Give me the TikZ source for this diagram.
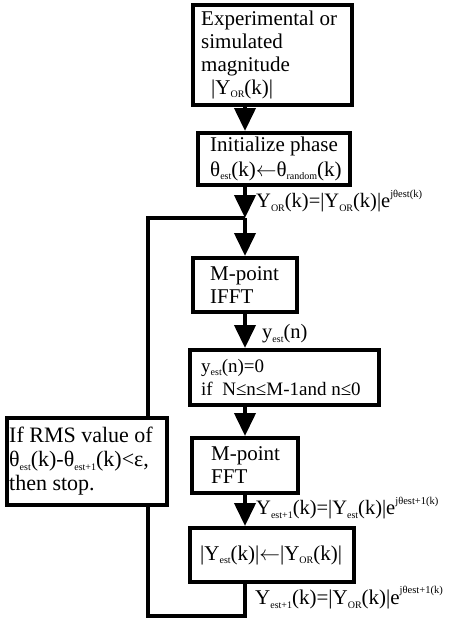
\documentclass[tikz,border=0pt]{standalone}
\usepackage{fontspec}
\setmainfont{Liberation Serif}
\usetikzlibrary{arrows.meta}
\newcommand{\sbs}[1]{\raisebox{-0.35ex}{\fontsize{10}{10}\selectfont #1}}
\newcommand{\sps}[1]{\raisebox{1.15ex}{\fontsize{10.5}{10.5}\selectfont #1}}
\newcommand{\larr}{$\leftarrow$}
\tikzset{
  box/.style={draw, line width=4pt, inner sep=0pt},
  txt/.style={anchor=west, inner sep=0pt, align=left, font=\fontsize{21}{23}\selectfont},
  lbl/.style={anchor=west, inner sep=0pt, font=\fontsize{20.5}{22}\selectfont},
  wire/.style={line width=4pt},
  arr/.style={line width=4pt, -{Triangle[width=21pt,length=23pt]}}
}
\begin{document}
\begin{tikzpicture}[x=1pt,y=-1pt]
\useasboundingbox (0,0) rectangle (448,621);
% boxes
\node[box, minimum width=159pt, minimum height=100pt] (b1) at (272.5,55) {};
\node[txt] at ([xshift=10pt]b1.west) {Experimental or\\simulated\\magnitude\\\hspace*{10pt}|Y\sbs{OR}(k)|};
\node[box, minimum width=152pt, minimum height=52pt] (b2) at (274,159) {};
\node[txt, font=\fontsize{21}{25}\selectfont] at ([xshift=14pt]b2.west) {Initialize phase\\θ\sbs{est}(k)\larr θ\sbs{random}(k)};
\node[box, minimum width=104pt, minimum height=54pt] (b3) at (245,285) {};
\node[txt] at ([xshift=19pt]b3.west) {M-point\\IFFT};
\node[box, minimum width=189pt, minimum height=55pt] (b4) at (284.5,377.5) {};
\node[txt, font=\fontsize{19}{23}\selectfont] at ([xshift=13pt]b4.west) {y\sbs{est}(n)=0\\if\ \ N≤n≤M-1and n≤0};
\node[box, minimum width=106pt, minimum height=55pt] (b5) at (245,465.5) {};
\node[txt] at ([xshift=21pt]b5.west) {M-point\\FFT};
\node[box, minimum width=164pt, minimum height=54pt] (b6) at (272,555) {};
\node[txt] at ([xshift=12pt]b6.west) {|Y\sbs{est}(k)|\larr|Y\sbs{OR}(k)|};
\node[box, minimum width=160pt, minimum height=87pt] (fb) at (87,461.5) {};
\node[txt, font=\fontsize{22}{24}\selectfont] at ([xshift=4pt]fb.west) {If RMS value of\\θ\sbs{est}(k)-θ\sbs{est+1}(k)<ε,\\then stop.};
% coordinates
\coordinate (j) at (245,218);
\coordinate (lb) at (148,616);
% connectors
\draw[arr] (b1.south -| j) -- (b2.north -| j);
\draw[arr] (b2.south -| j) -- (j);
\draw[arr] (j) -- (b3.north);
\draw[arr] (b3.south) -- (b4.north -| b3.south);
\draw[arr] (b4.south -| b5.north) -- (b5.north);
\draw[arr] (b5.south) -- (b6.north -| b5.south);
\draw[wire] (b6.south -| j) |- (lb) -- (lb |- fb.south);
\draw[wire] (lb |- fb.north) |- (j);
% labels
\node[lbl] (l1) at (256,201) {Y\sbs{OR}(k)=|Y\sbs{OR}(k)|e\sps{jθest(k)}};
\node[lbl] (l2) at (262,334) {y\sbs{est}(n)};
\node[lbl] (l3) at (256,508) {Y\sbs{est+1}(k)=|Y\sbs{est}(k)|e\sps{jθest+1(k)}};
\node[lbl, font=\fontsize{21}{23}\selectfont] (l4) at (255,598) {Y\sbs{est+1}(k)=|Y\sbs{OR}(k)|e\sps{jθest+1(k)}};
\end{tikzpicture}
\end{document}
